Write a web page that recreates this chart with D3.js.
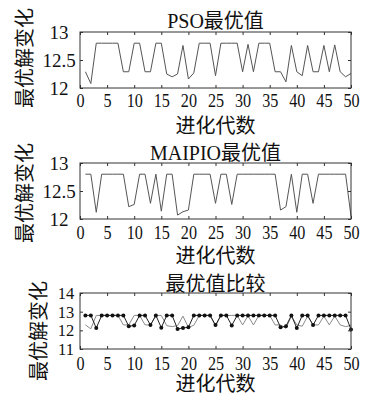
<!DOCTYPE html>
<html>
<head>
<meta charset="utf-8">
<script src="https://cdn.jsdelivr.net/npm/d3@7"></script>
<style>
  body { margin: 0; background: #fff; }
  text { fill: #111; }
</style>
</head>
<body>
<div id="chart"></div>
<script>
// best value per generation for the two algorithms
const generations = [1, 2, 3, 4, 5, 6, 7, 8, 9, 10, 11, 12, 13, 14, 15, 16, 17, 18, 19, 20, 21, 22, 23, 24, 25,
    26, 27, 28, 29, 30, 31, 32, 33, 34, 35, 36, 37, 38, 39, 40, 41, 42, 43, 44, 45, 46, 47, 48, 49, 50];
const psoBest = [12.29, 12.08, 12.8, 12.8, 12.8, 12.8, 12.8, 12.29, 12.29, 12.8,
    12.8, 12.29, 12.29, 12.8, 12.8, 12.25, 12.2, 12.25, 12.76, 12.16,
    12.27, 12.8, 12.8, 12.8, 12.22, 12.8, 12.8, 12.8, 12.8, 12.29,
    12.78, 12.29, 12.8, 12.8, 12.8, 12.29, 12.29, 12.11, 12.76, 12.29,
    12.22, 12.76, 12.29, 12.29, 12.76, 12.29, 12.77, 12.29, 12.2, 12.26];
const maipioBest = [12.8, 12.8, 12.12, 12.8, 12.8, 12.8, 12.8, 12.8, 12.22, 12.26,
    12.8, 12.8, 12.28, 12.8, 12.14, 12.8, 12.8, 12.07, 12.13, 12.16,
    12.8, 12.8, 12.8, 12.8, 12.28, 12.8, 12.8, 12.26, 12.8, 12.8,
    12.8, 12.8, 12.8, 12.8, 12.8, 12.8, 12.16, 12.22, 12.8, 12.12,
    12.8, 12.8, 12.28, 12.8, 12.8, 12.8, 12.8, 12.8, 12.8, 12.05];

const xTicks = [0, 5, 10, 15, 20, 25, 30, 35, 40, 45, 50];
const yTicksSingle = [12, 12.5, 13];
const yTicksCompare = [11, 12, 13, 14];
const titles = ["PSO最优值", "MAIPIO最优值", "最优值比较"];
const xLabel = "进化代数";
const yLabel = "最优解变化";

const width = 371, height = 396;
const left = 80, right = 351;
const numFont = "'Liberation Serif', 'Times New Roman', serif";
const cjkFont = "'Liberation Serif', 'Noto Sans CJK SC', serif";

const svg = d3.select("#chart")
    .append("svg")
    .attr("width", width)
    .attr("height", height);

const x = d3.scaleLinear().domain([0, 50]).range([left, right]);

function drawPanel(cfg) {
    const y = d3.scaleLinear().domain(cfg.yDomain).range([cfg.bottom, cfg.top]);
    const g = svg.append("g");

    // series
    cfg.series.forEach((s) => {
        const pts = generations.map((d, i) => [d, s.values[i]]);
        g.append("path")
            .datum(pts)
            .attr("fill", "none")
            .attr("stroke", s.color)
            .attr("stroke-width", 1)
            .attr("d", d3.line().x((d) => x(d[0])).y((d) => y(d[1])));
        if (s.dots) {
            g.selectAll(null)
                .data(pts)
                .enter()
                .append("circle")
                .attr("cx", (d) => x(d[0]))
                .attr("cy", (d) => y(d[1]))
                .attr("r", 2)
                .attr("fill", "#111");
        }
    });

    // inward ticks on all four sides
    const bottomAxis = g.append("g")
        .attr("transform", `translate(0,${cfg.bottom})`)
        .call(d3.axisBottom(x).tickValues(xTicks).tickSize(-3).tickPadding(4));
    bottomAxis.selectAll("text")
        .attr("y", 0)
        .attr("dy", 0)
        .attr("transform", `translate(0,${cfg.tickLabelY - cfg.bottom}) scale(0.85,1)`)
        .style("font-family", numFont)
        .style("font-size", "19px");

    g.append("g")
        .attr("transform", `translate(0,${cfg.top})`)
        .call(d3.axisTop(x).tickValues(xTicks).tickSize(-3).tickFormat(""));

    const leftAxis = g.append("g")
        .attr("transform", `translate(${left},0)`)
        .call(d3.axisLeft(y).tickValues(cfg.yTicks).tickSize(-3).tickFormat(d3.format("~g")));
    leftAxis.selectAll("text")
        .attr("x", cfg.yTickCx - left)
        .attr("dy", "0.33em")
        .attr("text-anchor", "middle")
        .style("font-family", numFont)
        .style("font-size", cfg.yTickFont);

    g.append("g")
        .attr("transform", `translate(${right},0)`)
        .call(d3.axisRight(y).tickValues(cfg.yTicks).tickSize(-3).tickFormat(""));

    g.selectAll(".domain").remove();
    g.selectAll(".tick line").attr("stroke", "#333");

    // frame
    g.append("rect")
        .attr("x", left)
        .attr("y", cfg.top)
        .attr("width", right - left)
        .attr("height", cfg.bottom - cfg.top)
        .attr("fill", "none")
        .attr("stroke", "#333")
        .attr("stroke-width", 1);

    // title
    g.append("text")
        .attr("x", (left + right) / 2)
        .attr("y", cfg.titleY)
        .attr("text-anchor", "middle")
        .style("font-family", cjkFont)
        .style("font-size", "20px")
        .text(cfg.title);

    // x-axis label
    g.append("text")
        .attr("x", (left + right) / 2)
        .attr("y", cfg.xLabelY)
        .attr("text-anchor", "middle")
        .style("font-family", cjkFont)
        .style("font-size", "20px")
        .text(xLabel);

    // y-axis label
    g.append("text")
        .attr("transform", `translate(${cfg.yLabelX},${cfg.yLabelCy}) rotate(-90)`)
        .attr("text-anchor", "middle")
        .style("font-family", cjkFont)
        .style("font-size", "20px")
        .text(yLabel);
}

drawPanel({
    top: 32, bottom: 88, yDomain: [12, 13], yTicks: yTicksSingle, yTickFont: "19px",
    title: titles[0], titleY: 28, tickLabelY: 107, xLabelY: 133,
    yTickCx: 59, yLabelX: 32, yLabelCy: 58,
    series: [{ values: psoBest, color: "#555" }]
});

drawPanel({
    top: 163, bottom: 219, yDomain: [12, 13], yTicks: yTicksSingle, yTickFont: "19px",
    title: titles[1], titleY: 160, tickLabelY: 239, xLabelY: 263,
    yTickCx: 59, yLabelX: 32, yLabelCy: 193,
    series: [{ values: maipioBest, color: "#555" }]
});

drawPanel({
    top: 293, bottom: 349, yDomain: [11, 14], yTicks: yTicksCompare, yTickFont: "16.5px",
    title: titles[2], titleY: 291, tickLabelY: 370, xLabelY: 391,
    yTickCx: 66, yLabelX: 46, yLabelCy: 331,
    series: [
        { values: psoBest, color: "#8a8a8a" },
        { values: maipioBest, color: "#222", dots: true }
    ]
});
</script>
</body>
</html>
